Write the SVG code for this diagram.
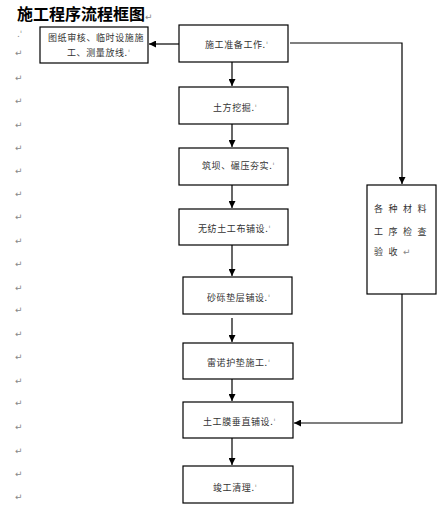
<svg xmlns="http://www.w3.org/2000/svg" width="438" height="517" viewBox="0 0 438 517">
<defs>
<marker id="ah" viewBox="0 0 8 8" refX="8" refY="4" markerWidth="7" markerHeight="7" markerUnits="userSpaceOnUse" orient="auto">
<path d="M0,0 L8,4 L0,8 z" fill="#000"/>
</marker>
<style>
.box{fill:#fff;stroke:#000;stroke-width:1.2}
.lbl{font-family:"Noto Sans CJK SC","Liberation Sans",sans-serif;font-size:9px;fill:#333;letter-spacing:0.6px}
.wide{letter-spacing:5.5px}
.pm{font-family:"DejaVu Sans",sans-serif;font-size:9px;fill:#888;letter-spacing:0}
.ln{fill:none;stroke:#000;stroke-width:1.2}
.title{font-family:"Noto Sans CJK SC",sans-serif;font-size:16px;font-weight:bold;fill:#000}
</style>
</defs>
<rect width="438" height="517" fill="#fff"/>
<text class="title" x="17" y="20">施工程序流程框图<tspan class="pm" font-weight="normal">↵</tspan></text>
<g id="marks" class="pm">
<text x="17" y="37">.ˈ</text>
<text x="15" y="56">↵</text>
<text x="15" y="81">↵</text>
<text x="15" y="104">↵</text>
<text x="15" y="128">↵</text>
<text x="15" y="151">↵</text>
<text x="15" y="174">↵</text>
<text x="15" y="197">↵</text>
<text x="15" y="220">↵</text>
<text x="15" y="244">↵</text>
<text x="15" y="267">↵</text>
<text x="15" y="291">↵</text>
<text x="15" y="313">↵</text>
<text x="15" y="337">↵</text>
<text x="15" y="360">↵</text>
<text x="15" y="384">↵</text>
<text x="15" y="406">↵</text>
<text x="15" y="430">↵</text>
<text x="15" y="454">↵</text>
<text x="15" y="477">↵</text>
<text x="15" y="500">↵</text>
</g>
<g id="connectors">
<line class="ln" x1="179" y1="44" x2="149" y2="44" marker-end="url(#ah)"/>
<line class="ln" x1="232" y1="62" x2="232" y2="86" marker-end="url(#ah)"/>
<line class="ln" x1="232" y1="124" x2="232" y2="147" marker-end="url(#ah)"/>
<line class="ln" x1="232" y1="185" x2="232" y2="208" marker-end="url(#ah)"/>
<line class="ln" x1="232" y1="245" x2="232" y2="276" marker-end="url(#ah)"/>
<line class="ln" x1="232" y1="318" x2="232" y2="342" marker-end="url(#ah)"/>
<line class="ln" x1="232" y1="379" x2="232" y2="401" marker-end="url(#ah)"/>
<line class="ln" x1="232" y1="438" x2="232" y2="465" marker-end="url(#ah)"/>
<polyline class="ln" points="290,43 402,43 402,184" marker-end="url(#ah)"/>
<polyline class="ln" points="402,294 402,423 294,423" marker-end="url(#ah)"/>
</g>
<g id="n_survey">
<rect class="box" x="40" y="27" width="108" height="36"/>
<text class="lbl" x="48" y="41">图纸审核、临时设施施</text>
<text class="lbl" x="67" y="56">工、测量放线.<tspan class="pm" font-size="6">ˈ</tspan></text>
</g>
<g id="n_prep">
<rect class="box" x="179" y="25" width="109" height="37"/>
<text class="lbl" x="205" y="48">施工准备工作.<tspan class="pm" font-size="6">ˈ</tspan></text>
</g>
<g id="n_excavate">
<rect class="box" x="179" y="87" width="109" height="37"/>
<text class="lbl" x="213" y="111">土方挖掘.<tspan class="pm" font-size="6">ˈ</tspan></text>
</g>
<g id="n_dam">
<rect class="box" x="179" y="148" width="109" height="37"/>
<text class="lbl" x="202" y="169">筑坝、碾压夯实.<tspan class="pm" font-size="6">ˈ</tspan></text>
</g>
<g id="n_geotextile">
<rect class="box" x="179" y="209" width="109" height="36"/>
<text class="lbl" x="198" y="232">无纺土工布铺设.<tspan class="pm" font-size="6">ˈ</tspan></text>
</g>
<g id="n_gravel">
<rect class="box" x="183" y="277" width="109" height="37"/>
<text class="lbl" x="207" y="301">砂砾垫层铺设.<tspan class="pm" font-size="6">ˈ</tspan></text>
</g>
<g id="n_reno">
<rect class="box" x="183" y="343" width="110" height="36"/>
<text class="lbl" x="207" y="366">雷诺护垫施工.<tspan class="pm" font-size="6">ˈ</tspan></text>
</g>
<g id="n_membrane">
<rect class="box" x="183" y="402" width="110" height="36"/>
<text class="lbl" x="203" y="425">土工膜垂直铺设.<tspan class="pm" font-size="6">ˈ</tspan></text>
</g>
<g id="n_cleanup">
<rect class="box" x="183" y="466" width="110" height="37"/>
<text class="lbl" x="213" y="491">竣工清理.<tspan class="pm" font-size="6">ˈ</tspan></text>
</g>
<g id="n_inspect">
<rect class="box" x="367" y="185" width="69" height="109"/>
<text class="lbl wide" x="374" y="212">各种材料</text>
<text class="lbl wide" x="374" y="235">工序检查</text>
<text class="lbl wide" x="374" y="255">验收<tspan class="pm">↵</tspan></text>
</g>
</svg>
